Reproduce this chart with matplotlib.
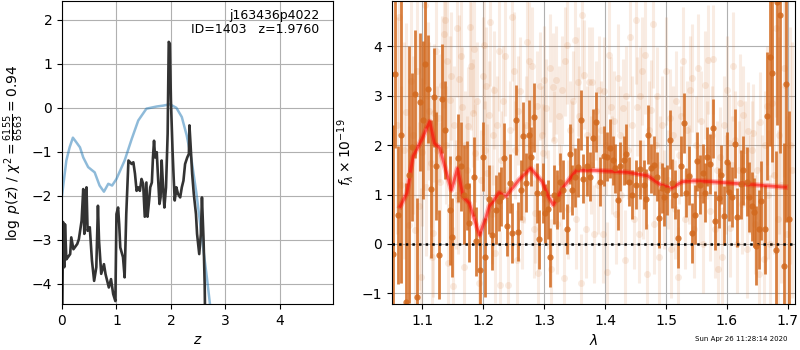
"""Redshift fit summary: p(z) on the left, 1D spectrum with model on the right."""
import matplotlib
matplotlib.use("Agg")
import matplotlib.pyplot as plt

# ---- left panel: log p(z) and prior
pz_z = [0.0, 0.02, 0.04, 0.055, 0.08, 0.11, 0.15, 0.17, 0.21, 0.28, 0.31, 0.36, 0.39,
        0.41, 0.43, 0.45, 0.47, 0.51, 0.55, 0.59, 0.63, 0.66, 0.68, 0.72, 0.77, 0.80,
        0.83, 0.86, 0.90, 0.94, 0.98, 1.00, 1.03, 1.05, 1.07, 1.12, 1.15, 1.18, 1.22,
        1.28, 1.31, 1.34, 1.37, 1.40, 1.43, 1.46, 1.49, 1.52, 1.55, 1.57, 1.60, 1.62,
        1.65, 1.67, 1.69, 1.71, 1.74, 1.76, 1.79, 1.81, 1.83, 1.86, 1.88, 1.91, 1.94,
        1.96, 1.98, 2.00, 2.03, 2.05, 2.07, 2.10, 2.13, 2.17, 2.20, 2.23, 2.26, 2.30,
        2.33, 2.34, 2.36, 2.39, 2.42, 2.46, 2.48, 2.52, 2.55, 2.57, 2.60, 2.62, 2.64]
pz_log = [-5.5, -2.6, -3.63, -2.65, -3.45, -3.4, -3.33, -2.95, -3.22, -3.1, -2.99, -2.57,
          -1.85, -2.87, -2.34, -1.81, -2.8, -2.72, -3.48, -3.94, -3.63, -2.23, -3.03,
          -3.78, -3.56, -3.79, -3.94, -4.09, -3.9, -4.24, -4.4, -2.42, -2.27, -2.65,
          -3.18, -3.4, -3.86, -2.42, -1.2, -1.28, -1.24, -1.5, -1.89, -1.81, -1.89,
          -1.62, -1.73, -2.48, -1.7, -2.48, -2.11, -1.81, -1.7, -1.13, -0.75, -1.13,
          -1.01, -1.5, -2.19, -2.04, -1.2, -1.89, -2.27, -1.81, -0.59, 1.5, 1.46, 0.17,
          -0.97, -1.58, -2.11, -1.81, -1.96, -2.04, -1.81, -1.66, -1.28, -1.13, -1.05,
          -0.4, -0.82, -1.5, -1.96, -2.42, -2.87, -3.33, -2.87, -2.04, -3.03, -4.02, -6.0]

prior_z = [0.0, 0.08, 0.14, 0.20, 0.26, 0.33, 0.39, 0.48, 0.60, 0.69, 0.77, 0.85, 0.92,
           1.00, 1.15, 1.28, 1.40, 1.55, 1.74, 1.86, 1.98, 2.10, 2.20, 2.29, 2.38, 2.47,
           2.56, 2.66, 2.72, 2.80]
prior_log = [-2.0, -1.2, -0.9, -0.68, -0.78, -0.9, -1.13, -1.35, -1.47, -1.77, -1.91,
             -1.73, -1.77, -1.62, -1.2, -0.71, -0.29, -0.02, 0.03, 0.05, 0.08, 0.0,
             -0.21, -0.63, -1.2, -1.96, -2.87, -3.86, -4.5, -5.3]

# ---- right panel: spectrum
strong_wave = [1.0525, 1.0557, 1.061, 1.066, 1.0735, 1.0785, 1.0838, 1.088, 1.092, 1.096,
               1.1016, 1.105, 1.1098, 1.1146, 1.1195, 1.1228, 1.1276, 1.133, 1.138,
               1.1455, 1.1494, 1.158, 1.1634, 1.168, 1.173, 1.1763, 1.1855, 1.189,
               1.1948, 1.199, 1.2035, 1.209, 1.2153, 1.2218, 1.226, 1.23, 1.2343, 1.2397,
               1.2436, 1.2478, 1.2533, 1.2575, 1.2614, 1.2657, 1.2705, 1.2749, 1.2782,
               1.2836, 1.2884, 1.2923, 1.2977, 1.302, 1.3063, 1.3102, 1.316, 1.321,
               1.3255, 1.3315, 1.3371, 1.3426, 1.3464, 1.351, 1.355, 1.3599, 1.3643,
               1.3697, 1.3751, 1.3805, 1.3859, 1.3924, 1.3984, 1.4038, 1.4076, 1.413,
               1.4168, 1.4211, 1.4244, 1.4309, 1.4346, 1.4401, 1.4445, 1.4505, 1.458,
               1.4633, 1.4671, 1.4698, 1.4752, 1.4807, 1.4845, 1.4888, 1.4931, 1.497,
               1.5012, 1.5061, 1.5105, 1.5148, 1.5197, 1.5239, 1.5294, 1.5332, 1.5375,
               1.5429, 1.5473, 1.551, 1.5554, 1.5608, 1.5635, 1.5673, 1.5717, 1.577,
               1.5808, 1.5863, 1.59, 1.5954, 1.5998, 1.6041, 1.6085, 1.6133, 1.6171,
               1.6225, 1.6269, 1.6322, 1.636, 1.6404, 1.6441, 1.6485, 1.6528, 1.6565,
               1.662, 1.6659, 1.6702, 1.6746, 1.68, 1.6826, 1.6875, 1.693, 1.6973, 1.7015]
strong_flux = [-0.2, 3.45, 0.59, 2.2, -1.17, 1.4, 1.97, 3.04, -1.07, 2.87,
               2.51, 3.65, 3.14, 1.11, 2.97, 1.58, -0.22, 2.94, 2.31,
               0.68, 0.14, 1.74, 1.57, 1.0, 1.18, 0.43, 1.36, 0.05,
               -0.53, 1.77, -0.27, 0.9, 0.18, 0.69, 0.86, 0.96, 1.74, 0.36,
               1.23, 0.22, 2.51, 0.25, 1.09, 2.18, 1.24, 2.21, 1.77,
               2.57, 1.03, 0.09, 1.03, 0.62, 0.70, -0.27, 1.0, 0.9,
               1.25, 1.1, 0.30, 1.82, 1.09, 1.35, 1.55, 2.51, 1.32,
               1.58, 1.36, 2.14, 2.47, 1.26, 1.78, 1.77, 1.94, 1.69,
               1.53, 0.89, 1.57, 1.69, 1.82, 1.26, 1.0, 1.2, 1.51,
               1.2, 0.91, 2.21, 1.53, 1.59, 1.36, 0.52, 1.13, 0.96,
               1.09, 2.11, 1.23, 1.0, 0.11, 1.58, 2.45, 1.04, 1.38,
               0.22, 0.59, 1.67, 1.2, 1.43, 1.04, 1.77, 1.62, 2.34,
               0.47, 0.93, 1.4, 0.57, 1.66, 1.06, 0.95, 2.03, 0.54,
               1.21, 1.49, 1.26, 0.95, 0.76, 0.64, -0.04, 0.30, 0.87,
               0.30, 2.59, 3.78, 3.46, -0.12, 4.91, 4.64, -0.45, 3.24, 0.5]
strong_err = [2.6, 1.5, 1.4, 3.0, 2.4, 2.6, 1.5, 1.3, 2.0, 1.4,
              1.6, 1.3, 1.1, 1.4, 1.0, 1.1, 0.9, 1.1, 1.0,
              1.1, 0.8, 0.9, 0.9, 1.0, 0.9, 0.8, 0.8, 0.7,
              0.8, 0.7, 0.8, 0.7, 0.7, 0.7, 0.6, 0.6, 0.7, 0.6,
              0.6, 0.6, 0.7, 0.6, 0.6, 0.7, 0.6, 0.7, 0.6,
              0.7, 0.6, 0.6, 0.6, 0.6, 0.6, 0.6, 0.6, 0.6,
              0.6, 0.6, 0.5, 0.6, 0.5, 0.6, 0.6, 0.6, 0.5,
              0.6, 0.5, 0.6, 0.6, 0.5, 0.6, 0.5, 0.6, 0.5,
              0.5, 0.6, 0.5, 0.5, 0.6, 0.5, 0.5, 0.5, 0.6,
              0.5, 0.6, 0.6, 0.5, 0.6, 0.5, 0.6, 0.5, 0.6,
              0.5, 0.6, 0.5, 0.5, 0.6, 0.6, 0.6, 0.5, 0.6,
              0.6, 0.6, 0.6, 0.6, 0.6, 0.6, 0.6, 0.6, 0.6,
              0.6, 0.6, 0.6, 0.6, 0.6, 0.6, 0.6, 0.7, 0.6,
              0.7, 0.7, 0.7, 0.7, 0.7, 0.7, 0.8, 0.8, 0.8,
              0.9, 1.3, 1.8, 1.8, 2.0, 2.5, 2.8, 2.5, 2.8, 2.2]

faint_wave = [1.058, 1.062, 1.066, 1.070, 1.074, 1.078, 1.082, 1.085, 1.088, 1.091, 1.095,
              1.098, 1.100, 1.104, 1.106, 1.109, 1.112, 1.114, 1.116, 1.118, 1.120, 1.123,
              1.125, 1.127, 1.130, 1.133, 1.135, 1.137, 1.139, 1.141, 1.143, 1.145, 1.148,
              1.150, 1.152, 1.155, 1.157, 1.159, 1.161, 1.163, 1.165, 1.168, 1.170, 1.173,
              1.176, 1.178, 1.180, 1.183, 1.185, 1.187, 1.190, 1.193, 1.196, 1.199, 1.201,
              1.203, 1.205, 1.207, 1.209, 1.212, 1.214, 1.216, 1.218, 1.220, 1.223, 1.226,
              1.228, 1.230, 1.233, 1.236, 1.239, 1.241, 1.244, 1.247, 1.250, 1.253, 1.256,
              1.258, 1.261, 1.264, 1.267, 1.270, 1.272, 1.275, 1.278, 1.280, 1.283, 1.285,
              1.288, 1.290, 1.293, 1.296, 1.298, 1.300, 1.303, 1.306, 1.309, 1.312, 1.314,
              1.317, 1.320, 1.322, 1.325, 1.328, 1.330, 1.333, 1.335, 1.338, 1.340, 1.343,
              1.346, 1.348, 1.350, 1.353, 1.355, 1.358, 1.360, 1.363, 1.366, 1.368, 1.371,
              1.374, 1.377, 1.379, 1.382, 1.385, 1.388, 1.390, 1.393, 1.396, 1.399, 1.402,
              1.404, 1.406, 1.409, 1.412, 1.415, 1.418, 1.421, 1.424, 1.427, 1.430, 1.432,
              1.435, 1.438, 1.441, 1.444, 1.447, 1.450, 1.452, 1.455, 1.457, 1.460, 1.463,
              1.466, 1.469, 1.472, 1.475, 1.478, 1.480, 1.483, 1.486, 1.488, 1.491, 1.494,
              1.497, 1.500, 1.503, 1.506, 1.508, 1.511, 1.514, 1.517, 1.519, 1.522, 1.525,
              1.528, 1.531, 1.534, 1.537, 1.540, 1.543, 1.546, 1.549, 1.552, 1.555, 1.558,
              1.561, 1.564, 1.567, 1.569, 1.572, 1.575, 1.577, 1.580, 1.583, 1.586, 1.589,
              1.592, 1.595, 1.598, 1.600, 1.603, 1.605, 1.608, 1.610, 1.613, 1.616, 1.619,
              1.622, 1.625, 1.627, 1.630, 1.633, 1.635, 1.638, 1.641, 1.643, 1.646, 1.649,
              1.652, 1.654, 1.657, 1.660, 1.663, 1.665, 1.668, 1.671, 1.674, 1.677, 1.680,
              1.683, 1.686, 1.689, 1.693, 1.696, 1.699, 1.703, 1.707]
faint_flux = [2.4, 4.6, 1.2, 1.9, 2.68, 0.39, 3.3, 2.21, 0.28, 3.5, 0.76,
              -0.66, 1.87, 4.84, 1.16, 3.0, 2.7, 1.64, -0.26, 0.22, 2.65, 3.9,
              1.9, 2.55, 1.26, 3.22, 4.26, 4.54, 2.0, 3.7, -0.39, 2.92, 3.4,
              -0.86, 2.41, 1.0, 4.37, 0.89, 3.34, 3.8, 2.78, -0.46, 2.0, 1.5,
              2.38, 4.4, 3.6, 2.65, 3.95, 1.84, 2.9, -0.8, 1.3, 3.4, 4.03,
              1.9, 3.2, 1.43, 2.61, 4.5, 0.6, 2.2, 3.12, -0.19, 2.4, 3.9,
              -0.83, 1.7, 2.9, 3.8, 1.1, -0.83, 2.3, 4.6, 3.5, 1.9, -0.32,
              2.7, 3.1, 0.5, 1.43, 2.4, 4.1, 3.7, 2.0, 3.6, 0.3, 0.62,
              2.8, -0.59, 3.2, 2.2, 1.84, 3.32, 2.75, 0.9, 3.56, -0.5, 3.18,
              2.1, 3.32, 0.4, 2.6, 1.0, 3.12, -0.7, 3.7, 4.03, 0.7, 2.3,
              1.9, 2.9, 4.14, 0.5, 3.29, 2.6, -0.8, 4.64, 3.43, 0.3, 2.2,
              3.29, 1.6, 3.29, 0.2, 2.7, 1.2, 3.12, 2.3, 0.2, 3.09, 2.0,
              -0.56, 3.83, 2.78, 1.6, 2.5, 0.6, 3.36, 2.2, 1.0, 2.75, -0.32,
              3.0, 1.9, 4.2, 2.4, 0.5, 4.54, 2.78, 0.2, 2.99, 3.5, 1.1,
              3.83, -0.6, 2.3, 2.72, 4.46, 0.4, 2.0, 2.99, -0.26, 1.6, 2.4,
              0.9, 3.5, 1.3, 2.55, -0.1, 2.2, 0.7, 2.9, -0.66, 1.8, 2.6,
              3.7, 0.5, 2.3, 1.4, 3.12, 3.36, 0.3, 2.0, 3.56, 1.0, 2.5,
              0.0, 3.22, 1.9, 3.73, 0.66, 2.2, 3.74, 0.3, 1.5, -0.5, 1.77,
              -0.26, 2.4, 1.2, 3.12, 2.04, 0.32, 1.6, 3.6, 2.1, 0.0, 1.5,
              2.85, 0.8, 2.61, 1.9, -0.1, 2.28, 1.2, 1.9, 2.24, 0.4, 1.5,
              -0.6, 2.48, 1.1, -0.3, 2.0, 2.8, 1.0, 0.0, 2.85, 1.4, 4.37,
              0.5, 2.2, 1.2, 3.56, 3.22, 0.2, 2.0, 1.5]
faint_err = [2.2, 2.4, 2.0, 2.2, 1.8, 2.0, 1.8, 1.6, 1.8, 1.6, 1.7,
             1.8, 1.5, 1.6, 1.4, 1.5, 1.4, 1.3, 1.4, 1.3, 1.4, 1.5,
             1.3, 1.3, 1.2, 1.4, 1.5, 1.5, 1.2, 1.4, 1.2, 1.3, 1.3,
             1.2, 1.2, 1.1, 1.4, 1.1, 1.3, 1.3, 1.2, 1.1, 1.1, 1.1,
             1.2, 1.4, 1.3, 1.1, 1.3, 1.0, 1.2, 1.1, 1.0, 1.2, 1.3,
             1.0, 1.2, 1.0, 1.1, 1.3, 1.0, 1.0, 1.2, 1.0, 1.0, 1.2,
             1.1, 1.0, 1.1, 1.2, 1.0, 1.1, 1.0, 1.3, 1.2, 1.0, 1.0,
             1.1, 1.1, 1.0, 1.0, 1.0, 1.2, 1.2, 1.0, 1.2, 1.0, 1.0,
             1.1, 1.0, 1.1, 1.0, 1.0, 1.1, 1.0, 1.0, 1.1, 1.0, 1.1,
             1.0, 1.1, 1.0, 1.0, 1.0, 1.1, 1.0, 1.1, 1.2, 1.0, 1.0,
             1.0, 1.0, 1.2, 1.0, 1.1, 1.0, 1.0, 1.3, 1.1, 1.0, 1.0,
             1.1, 1.0, 1.1, 1.0, 1.0, 1.0, 1.1, 1.0, 1.0, 1.1, 1.0,
             1.0, 1.2, 1.0, 1.0, 1.0, 1.0, 1.1, 1.0, 1.0, 1.0, 1.0,
             1.0, 1.0, 1.2, 1.0, 1.0, 1.3, 1.0, 1.0, 1.0, 1.1, 1.0,
             1.2, 1.0, 1.0, 1.0, 1.3, 1.0, 1.0, 1.0, 1.0, 1.0, 1.0,
             1.0, 1.1, 1.0, 1.0, 1.0, 1.0, 1.0, 1.0, 1.0, 1.0, 1.0,
             1.1, 1.0, 1.0, 1.0, 1.1, 1.1, 1.0, 1.0, 1.1, 1.0, 1.0,
             1.0, 1.1, 1.0, 1.1, 1.0, 1.0, 1.1, 1.0, 1.0, 1.0, 1.0,
             1.0, 1.0, 1.0, 1.1, 1.0, 1.0, 1.0, 1.1, 1.0, 1.0, 1.0,
             1.0, 1.0, 1.0, 1.0, 1.0, 1.0, 1.0, 1.0, 1.0, 1.0, 1.0,
             1.1, 1.0, 1.1, 1.1, 1.1, 1.2, 1.3, 1.4, 1.5, 1.6, 1.8,
             1.8, 2.0, 2.0, 2.2, 2.2, 2.4, 2.4, 2.6]

model_wave = [1.064, 1.075, 1.085, 1.099, 1.1125, 1.120, 1.129, 1.137, 1.148, 1.158,
              1.167, 1.1775, 1.194, 1.205, 1.210, 1.218, 1.226, 1.237, 1.259, 1.278,
              1.297, 1.307, 1.315, 1.332, 1.353, 1.383, 1.437, 1.470, 1.491, 1.508,
              1.527, 1.546, 1.575, 1.621, 1.696]
model_flux = [0.76, 1.03, 1.77, 2.11, 2.48, 2.04, 1.94, 1.57, 1.09, 1.53,
              0.96, 0.82, 0.18, 0.55, 0.76, 0.89, 1.04, 0.96, 1.3, 1.53,
              1.26, 0.96, 0.79, 1.16, 1.49, 1.49, 1.45, 1.38, 1.2, 1.13,
              1.26, 1.28, 1.26, 1.22, 1.15]

obj_label = "j163436p4022\nID=1403   z=1.9760"
stamp = "Sun Apr 26 11:28:14 2020"
ORANGE = "#d2691e"

fig = plt.figure(figsize=(8, 3.5), dpi=100)
ax1 = fig.add_axes([0.0775, 0.131, 0.339, 0.866])
ax2 = fig.add_axes([0.49, 0.131, 0.504, 0.866])

ax1.plot(prior_z, prior_log, color="tab:blue", alpha=0.5, lw=1.8)
ax1.plot(pz_z, pz_log, color="0.2", lw=1.9)
ax1.set_xlim(0, 4.98)
ax1.set_ylim(-4.47, 2.43)
ax1.set_xticks([0, 1, 2, 3, 4])
ax1.grid(True)
ax1.set_xlabel("$z$")
ax1.set_ylabel(r"$\log\ p(z)$ / $\chi^2=\frac{6155}{6563}=0.94$")
ax1.text(0.95, 0.975, obj_label, transform=ax1.transAxes, ha="right", va="top",
         fontsize=9, linespacing=1.1)

ax2.errorbar(faint_wave, faint_flux, yerr=faint_err, fmt="o", color=ORANGE, ms=5,
             elinewidth=2.2, capsize=0, alpha=0.12, mew=0)
ax2.errorbar(strong_wave, strong_flux, yerr=strong_err, fmt="o", color=ORANGE, ms=4.5,
             elinewidth=2.0, capsize=0, alpha=0.85, mew=0)
ax2.plot(model_wave, model_flux, color="red", lw=4, alpha=0.25)
ax2.plot(model_wave, model_flux, color="red", lw=2, alpha=0.55)
ax2.axhline(0, color="k", ls=":", lw=1.8)
ax2.set_xlim(1.0505, 1.712)
ax2.set_ylim(-1.22, 4.92)
ax2.set_xticks([1.1, 1.2, 1.3, 1.4, 1.5, 1.6, 1.7])
ax2.set_yticks([-1, 0, 1, 2, 3, 4])
ax2.grid(True)
ax2.set_xlabel(r"$\lambda$")
ax2.set_ylabel(r"$f_\lambda \times 10^{-19}$")

fig.text(0.927, 0.03, stamp, fontsize=5, ha="center", va="center")
fig.savefig("out.png", dpi=100)
